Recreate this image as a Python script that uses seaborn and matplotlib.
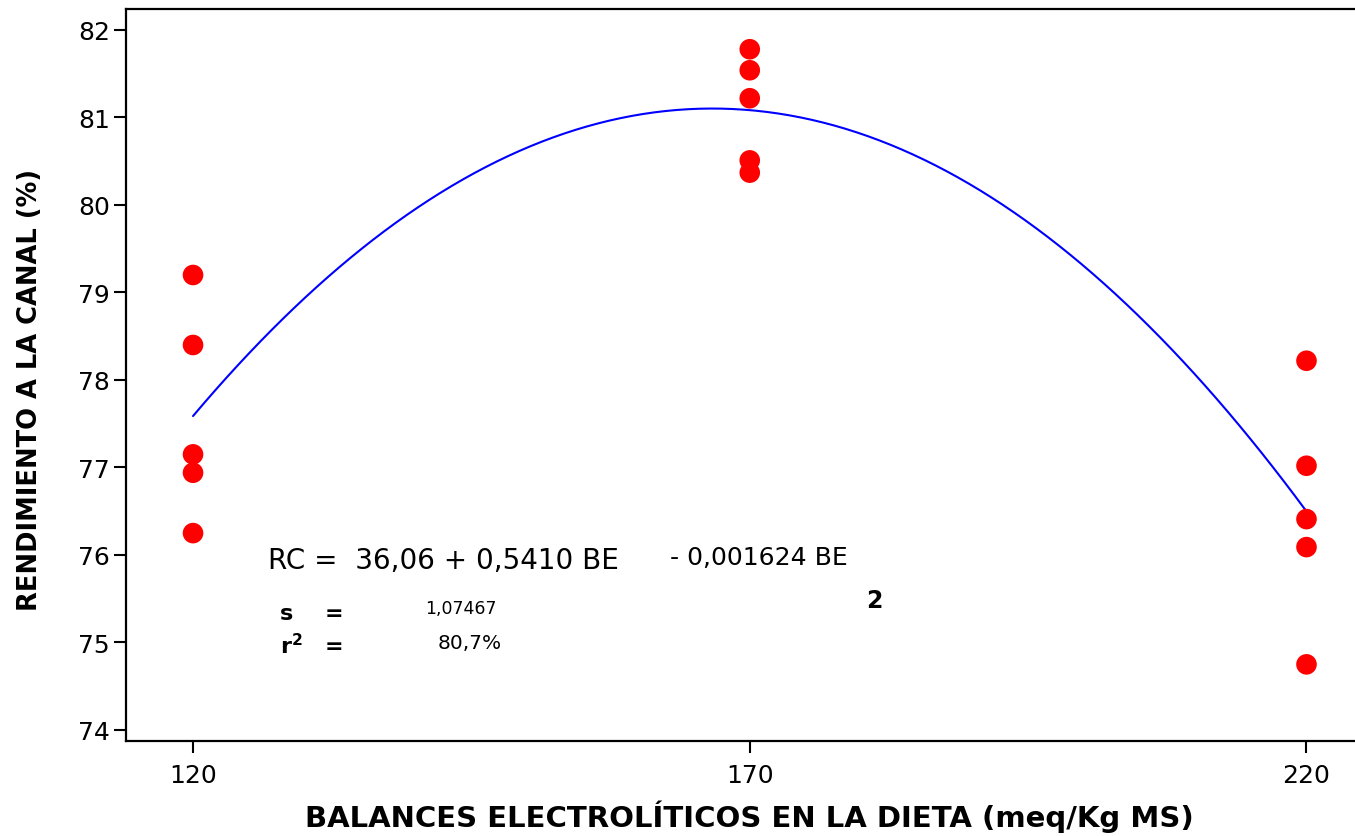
import numpy as np
import pandas as pd
import matplotlib
matplotlib.use("Agg")
import matplotlib.pyplot as plt
import seaborn as sns

# balance electrolitico (meq/Kg MS) y rendimiento a la canal (%)
balance = [120, 120, 120, 120, 120,
           170, 170, 170, 170, 170,
           220, 220, 220, 220, 220]
rendimiento = [79.20, 78.40, 77.15, 76.94, 76.25,
               81.78, 81.54, 81.22, 80.51, 80.37,
               78.22, 77.02, 76.41, 76.09, 74.75]
x_ticks = [120, 170, 220]
y_ticks = [74, 75, 76, 77, 78, 79, 80, 81, 82]

df = pd.DataFrame({"BE": balance, "RC": rendimiento})

sns.set_style("white")
plt.rcParams["font.family"] = ["DejaVu Sans"]
plt.rcParams["text.color"] = "black"
plt.rcParams["axes.labelcolor"] = "black"

fig = plt.figure(figsize=(13.55, 8.37), dpi=100)
ax = fig.add_axes([126 / 1355, 1 - 742 / 837, 1 - 126 / 1355 + 0.002, (742 - 10) / 837])

sns.regplot(
    data=df, x="BE", y="RC", order=2, ci=None, truncate=True, ax=ax,
    scatter_kws={"s": 220, "color": "#ff0000", "alpha": 1, "edgecolor": "none", "zorder": 3},
    line_kws={"color": "#0000ff", "linewidth": 1.5, "zorder": 2},
)

ax.set_xlim(113.98, 224.6)
ax.set_ylim(73.874, 82.24)
ax.set_xticks(x_ticks)
ax.set_yticks(y_ticks)
ax.tick_params(axis="both", which="major", bottom=True, left=True, direction="out",
               length=8.5, width=1.5, labelsize=18, color="black",
               labelcolor="black", pad=3)
ax.tick_params(axis="x", pad=7)
for side in ["left", "bottom", "top"]:
    ax.spines[side].set_visible(True)
    ax.spines[side].set_color("black")
    ax.spines[side].set_linewidth(1.6)
ax.spines["right"].set_visible(False)

ax.set_xlabel("BALANCES ELECTROLÍTICOS EN LA DIETA (meq/Kg MS)",
              fontsize=21, fontweight="bold")
ax.set_ylabel("RENDIMIENTO A LA CANAL (%)", fontsize=18.5, fontweight="bold")
ax.xaxis.set_label_coords((748 - 126) / 1229, -(817 - 742) / 732)
ax.xaxis.label.set_va("center")
ax.yaxis.set_label_coords((30 - 126) / 1229, (742 - 390) / 732)
ax.yaxis.label.set_va("center")

def px(x, y):
    return x / 1355, 1 - y / 837

fig.text(*px(268, 561), "RC =  36,06 + 0,5410 BE", fontsize=20, va="center", ha="left")
fig.text(*px(670, 558), "- 0,001624 BE", fontsize=18, va="center", ha="left")
fig.text(*px(866, 601), "2", fontsize=17, fontweight="bold", va="center", ha="left")
fig.text(*px(280, 614), "s", fontsize=16, fontweight="bold", va="center", ha="left")
fig.text(*px(325, 614), "=", fontsize=16, fontweight="bold", va="center", ha="left")
fig.text(*px(425, 609), "1,07467", fontsize=12.5, va="center", ha="left")
fig.text(*px(280, 646), r"r$^\mathbf{2}$", fontsize=16, fontweight="bold", va="center", ha="left")
fig.text(*px(325, 647), "=", fontsize=16, fontweight="bold", va="center", ha="left")
fig.text(*px(438, 644), "80,7%", fontsize=14.5, va="center", ha="left")

fig.savefig("out.png", dpi=100)
plt.close(fig)
